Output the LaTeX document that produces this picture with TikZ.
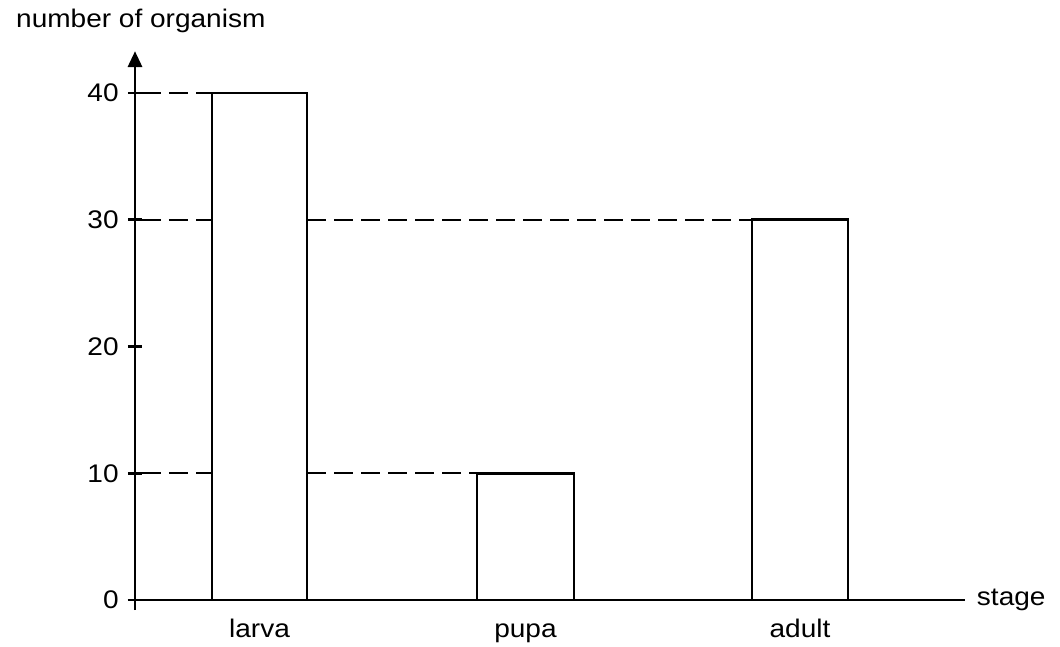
\documentclass[tikz,border=0pt]{standalone}
\usepackage{fontspec}
\setmainfont{Liberation Sans}[FakeStretch=1.1]
\usepackage{tikz}
\usetikzlibrary{arrows.meta}

\begin{document}
\begin{tikzpicture}[x=0.2cm,y=0.2535cm,font=\fontsize{14.5}{17}\selectfont,
    bar/.style={line width=1.6pt},
    guide/.style={line width=1.3pt,dash pattern=on 0.38cm off 0.16cm},
    tick/.style={left,inner sep=4pt}]
    \useasboundingbox (-13.5,-3.63) rectangle (92.5,47.34);
    % axes
    \coordinate (o) at (0,0);
    \coordinate (ytop) at (0,43.3);
    \coordinate (xend) at (83,0);
    \draw[bar,-{Triangle[length=9pt,width=8pt]}] (0,-0.8) -- (ytop);
    \draw[bar] (-0.7,0) -- (xend) node[right,inner sep=6pt] (xlab) {stage};
    \node[anchor=base west] (ylab) at (-12.5,45.2) {number of organism};
    \foreach \v in {0,10,20,30,40} {
        \draw[bar] (-0.7,\v) -- (0.7,\v);
        \node[tick] (t\v) at (-0.9,\v) {\v};
    }
    % bars
    \draw[bar] (7.7,0) rectangle (17.2,40) node[midway] (larva) {};
    \draw[bar] (34.2,0) rectangle (43.9,10) node[midway] (pupa) {};
    \draw[bar] (61.7,0) rectangle (71.3,30) node[midway] (adult) {};
    \node[anchor=base] (llarva) at (12.45,-2.92) {larva};
    \node[anchor=base] (lpupa) at (39.05,-2.92) {pupa};
    \node[anchor=base] (ladult) at (66.5,-2.92) {adult};
    % dashed levels
    \draw[guide] (0.7,40) -- (7.7,40);
    \draw[guide] (0.7,30) -- (7.7,30);
    \draw[guide] (17.2,30) -- (61.7,30);
    \draw[guide] (0.7,10) -- (7.7,10);
    \draw[guide] (17.2,10) -- (34.2,10);
\end{tikzpicture}
\end{document}
